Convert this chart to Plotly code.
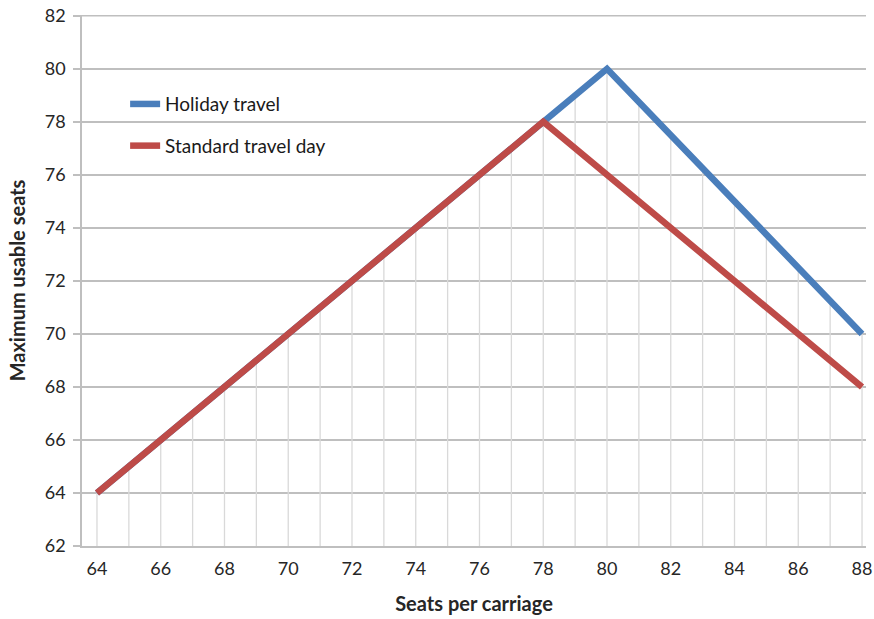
import plotly.graph_objects as go

seats = list(range(64, 89))
holiday = [64, 65, 66, 67, 68, 69, 70, 71, 72, 73, 74, 75, 76, 77, 78, 79, 80,
           78.75, 77.5, 76.25, 75, 73.75, 72.5, 71.25, 70]
standard = [64, 65, 66, 67, 68, 69, 70, 71, 72, 73, 74, 75, 76, 77, 78,
            77, 76, 75, 74, 73, 72, 71, 70, 69, 68]
y_ticks = list(range(62, 84, 2))
x_ticks = list(range(64, 90, 2))

BLUE = "#4A7EBB"
RED = "#BE4B48"
GRID = "#BFBFBF"
FONT = "Lato"

# drop lines from the top series down to the axis
dx, dy = [], []
for s, h, st in zip(seats, holiday, standard):
    dx += [s, s, None]
    dy += [62, max(h, st), None]

fig = go.Figure()
fig.add_trace(go.Scatter(x=dx, y=dy, mode="lines", line=dict(color="#D9D9D9", width=1.3),
                         showlegend=False, hoverinfo="skip"))
fig.add_trace(go.Scatter(x=seats, y=holiday, mode="lines", name="Holiday travel",
                         legendgroup="a", line=dict(color=BLUE, width=6.5)))
fig.add_trace(go.Scatter(x=seats, y=standard, mode="lines", name="Standard travel day",
                         legendgroup="b", line=dict(color=RED, width=6.5)))

# top gridline (Plotly omits the gridline at the very edge of the range)
fig.add_hline(y=max(y_ticks), line=dict(color=GRID, width=1.5), layer="below")

fig.update_layout(
    width=874, height=619,
    margin=dict(l=82, r=8, t=15, b=73, autoexpand=False),
    paper_bgcolor="white", plot_bgcolor="white",
    font=dict(family=FONT, size=17, color="#262626"),
    legend=dict(x=0.055, y=0.868, xanchor="left", yanchor="top",
                bgcolor="rgba(0,0,0,0)", font=dict(size=19, color="#1a1a1a"),
                traceorder="grouped", tracegroupgap=14),
    xaxis=dict(range=[63.53, 88.125], tickvals=x_ticks, showgrid=False, zeroline=False,
               showline=True, linecolor=GRID, linewidth=1.5, ticks="", automargin=False,
               tickfont=dict(size=18), ticklabelstandoff=6, ticklabeloverflow="allow",
               title=dict(text="<b>Seats per carriage</b>", font=dict(size=20), standoff=19)),
    yaxis=dict(range=[62, 82.03], tickvals=y_ticks, showgrid=True, gridcolor=GRID, gridwidth=1.5,
               zeroline=False, showline=True, linecolor=GRID, linewidth=1.5, automargin=False,
               ticks="outside", ticklen=7, tickcolor=GRID, tickwidth=1.5,
               tickfont=dict(size=18), ticklabelstandoff=4, ticklabeloverflow="allow",
               title=dict(text="<b>Maximum usable seats</b>", font=dict(size=20), standoff=14)),
)

fig.write_html("out.html", config={"displayModeBar": False},
               post_script="document.body.style.margin='0';")
